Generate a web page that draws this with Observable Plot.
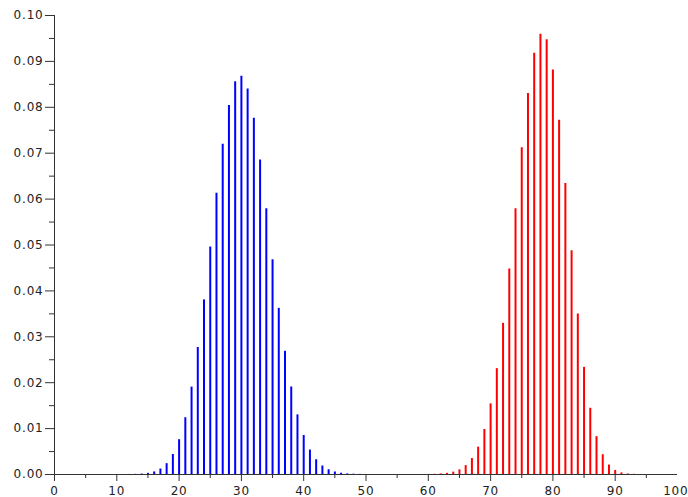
<!DOCTYPE html>
<html>
<head>
<meta charset="utf-8">
<script src="https://cdn.jsdelivr.net/npm/d3@7"></script>
<script src="https://cdn.jsdelivr.net/npm/@observablehq/plot@0.6"></script>
<style>
  html, body { margin: 0; padding: 0; background: #fff; }
</style>
</head>
<body>
<div id="chart"></div>
<script>
const blueK = [12,13,14,15,16,17,18,19,20,21,22,23,24,25,26,27,28,29,30,31,32,33,34,35,36,37,38,39,40,41,42,43,44,45,46,47,48,49];
const blueP = [0.00001,0.00004,0.00010,0.00025,0.00056,0.00119,0.00236,0.00437,0.00758,0.01237,0.01904,0.02767,0.03804,0.04956,0.06127,0.07197,0.08041,0.08556,0.08678,0.08398,0.07761,0.06854,0.05788,0.04678,0.03620,0.02684,0.01907,0.01299,0.00849,0.00533,0.00321,0.00185,0.00103,0.00055,0.00028,0.00014,0.00007,0.00003];
const redK = [60,61,62,63,64,65,66,67,68,69,70,71,72,73,74,75,76,77,78,79,80,81,82,83,84,85,86,87,88,89,90,91,92,93];
const redP = [0.00002,0.00005,0.00012,0.00025,0.00052,0.00102,0.00193,0.00347,0.00596,0.00980,0.01539,0.02306,0.03293,0.04478,0.05792,0.07119,0.08303,0.09175,0.09592,0.09471,0.08814,0.07716,0.06339,0.04874,0.03497,0.02334,0.01443,0.00824,0.00431,0.00206,0.00089,0.00035,0.00012,0.00004];

const xMajor = [0,10,20,30,40,50,60,70,80,90,100];
const xMinor = [5,15,25,35,45,55,65,75,85,95];
const yMajor = [0,0.01,0.02,0.03,0.04,0.05,0.06,0.07,0.08,0.09,0.10];
const yMinor = [0.005,0.015,0.025,0.035,0.045,0.055,0.065,0.075,0.085,0.095];

const blue = blueK.map((k, i) => ({k, p: blueP[i]}));
const red = redK.map((k, i) => ({k, p: redP[i]}));

const axisColor = "#333";
const xInner = xMajor.slice(0, -1);
const xLast = xMajor.slice(-1);

const chart = Plot.plot({
  width: 688,
  height: 497,
  marginLeft: 54,
  marginRight: 11,
  marginTop: 15,
  marginBottom: 23,
  style: {fontFamily: "'DejaVu Sans', sans-serif", fontSize: "12px", letterSpacing: "0.8px", color: "#222", background: "#fff"},
  x: {domain: [0, 100]},
  y: {domain: [0, 0.1]},
  marks: [
    Plot.ruleX(blue, {x: "k", y1: 0, y2: "p", stroke: "#0000ff", strokeWidth: 2}),
    Plot.ruleX(red, {x: "k", y1: 0, y2: "p", stroke: "#ff0000", strokeWidth: 2}),
    Plot.ruleX([0], {y1: 0, y2: 0.1, stroke: axisColor}),
    Plot.ruleY([0], {stroke: axisColor}),
    Plot.axisY({ticks: yMajor, tickSize: 9, tickPadding: 2, tickFormat: d3.format(".2f"), label: null, stroke: axisColor, strokeOpacity: 1}),
    Plot.axisY({ticks: yMinor, tickSize: 5, text: null, label: null, stroke: axisColor, strokeOpacity: 1}),
    Plot.axisX({ticks: xInner, tickSize: 7, tickPadding: 5, tickFormat: d3.format("d"), label: null, stroke: axisColor, strokeOpacity: 1}),
    Plot.axisX({ticks: xLast, tickSize: 7, tickPadding: 5, tickFormat: d3.format("d"), label: null, stroke: axisColor, strokeOpacity: 1, textAnchor: "end", dx: 11}),
    Plot.axisX({ticks: xMinor, tickSize: 4, text: null, label: null, stroke: axisColor, strokeOpacity: 1})
  ]
});
document.getElementById("chart").appendChild(chart);
</script>
</body>
</html>
